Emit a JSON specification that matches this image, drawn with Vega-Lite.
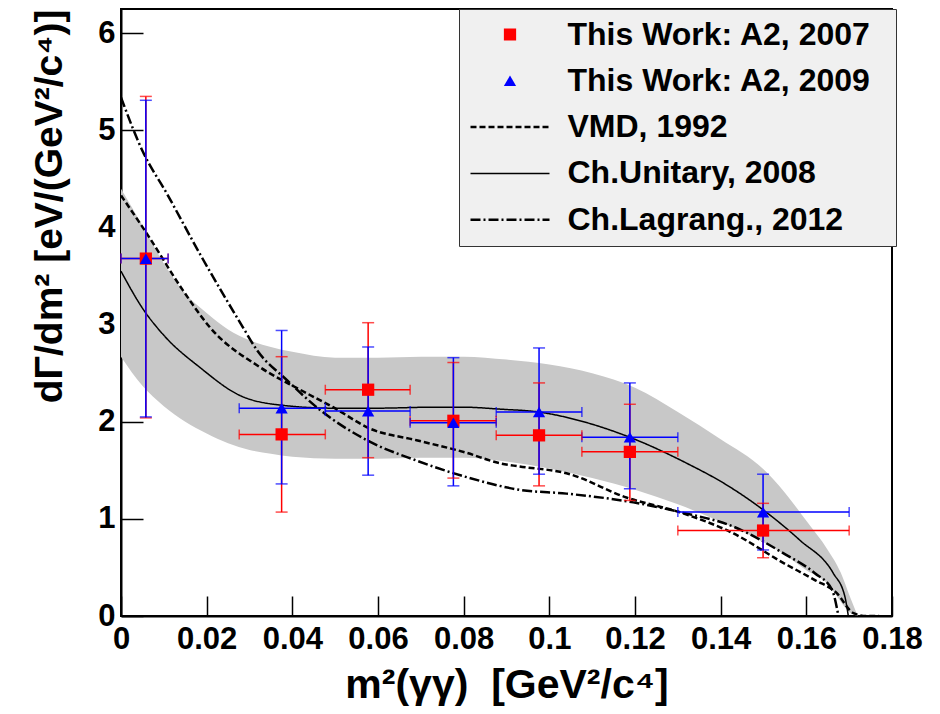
{
  "$schema": "https://vega.github.io/schema/vega-lite/v6.json",
  "width": 771,
  "height": 607,
  "autosize": {"type": "none"},
  "padding": {"left": 121, "top": 9, "right": 48, "bottom": 98},
  "background": "white",
  "config": {
    "font": "Liberation Sans",
    "view": {"stroke": "#000000", "strokeWidth": 2},
    "axis": {
      "grid": false,
      "domainColor": "#000000",
      "domainWidth": 2,
      "tickColor": "#000000",
      "tickWidth": 1.5,
      "labelColor": "#000000",
      "labelFont": "Liberation Sans",
      "labelFontWeight": "bold",
      "labelFontSize": 31,
      "labelFlush": false,
      "labelOverlap": false,
      "titleFont": "Liberation Sans",
      "titleFontWeight": "bold",
      "titleColor": "#000000"
    },
    "legend": {
      "fillColor": "#f0f0f0",
      "strokeColor": "#333333",
      "padding": 10,
      "clipHeight": 31,
      "labelFont": "Liberation Sans",
      "labelFontSize": 32,
      "labelFontWeight": "bold",
      "labelColor": "#000000",
      "labelLimit": 600,
      "labelOffset": 16.5,
      "rowPadding": 13.3,
      "symbolOpacity": 1,
      "titleOrient": "right",
      "titleFontSize": 1,
      "titlePadding": 15
    }
  },
  "datasets": {
    "points": [
      {"series": "This Work: A2, 2007", "x": 0.0058, "y": 3.68, "xlo": 0.0, "xhi": 0.011, "ylo": 2.04, "yhi": 5.35},
      {"series": "This Work: A2, 2007", "x": 0.0375, "y": 1.87, "xlo": 0.0276, "xhi": 0.0477, "ylo": 1.07, "yhi": 2.67},
      {"series": "This Work: A2, 2007", "x": 0.0577, "y": 2.33, "xlo": 0.0477, "xhi": 0.0675, "ylo": 1.63, "yhi": 3.02},
      {"series": "This Work: A2, 2007", "x": 0.0776, "y": 2.01, "xlo": 0.0675, "xhi": 0.0876, "ylo": 1.42, "yhi": 2.61},
      {"series": "This Work: A2, 2007", "x": 0.0976, "y": 1.86, "xlo": 0.0876, "xhi": 0.1076, "ylo": 1.34, "yhi": 2.40},
      {"series": "This Work: A2, 2007", "x": 0.1188, "y": 1.69, "xlo": 0.1076, "xhi": 0.130, "ylo": 1.19, "yhi": 2.18},
      {"series": "This Work: A2, 2007", "x": 0.1499, "y": 0.88, "xlo": 0.130, "xhi": 0.170, "ylo": 0.60, "yhi": 1.16},
      {"series": "This Work: A2, 2009", "x": 0.0058, "y": 3.68, "xlo": 0.0, "xhi": 0.011, "ylo": 2.05, "yhi": 5.31},
      {"series": "This Work: A2, 2009", "x": 0.0375, "y": 2.14, "xlo": 0.0276, "xhi": 0.0477, "ylo": 1.36, "yhi": 2.94},
      {"series": "This Work: A2, 2009", "x": 0.0577, "y": 2.11, "xlo": 0.0477, "xhi": 0.0675, "ylo": 1.45, "yhi": 2.77},
      {"series": "This Work: A2, 2009", "x": 0.0776, "y": 1.99, "xlo": 0.0675, "xhi": 0.0876, "ylo": 1.34, "yhi": 2.66},
      {"series": "This Work: A2, 2009", "x": 0.0976, "y": 2.10, "xlo": 0.0876, "xhi": 0.1076, "ylo": 1.46, "yhi": 2.76},
      {"series": "This Work: A2, 2009", "x": 0.1188, "y": 1.84, "xlo": 0.1076, "xhi": 0.130, "ylo": 1.31, "yhi": 2.40},
      {"series": "This Work: A2, 2009", "x": 0.1499, "y": 1.07, "xlo": 0.130, "xhi": 0.170, "ylo": 0.68, "yhi": 1.46}
    ],
    "band": [
      {"x": 0.0, "lo": 2.67, "hi": 4.40},
      {"x": 0.005, "lo": 2.37, "hi": 4.02},
      {"x": 0.01, "lo": 2.16, "hi": 3.63},
      {"x": 0.015, "lo": 2.0, "hi": 3.32},
      {"x": 0.02, "lo": 1.88, "hi": 3.12},
      {"x": 0.025, "lo": 1.78, "hi": 2.95},
      {"x": 0.03, "lo": 1.71, "hi": 2.84},
      {"x": 0.035, "lo": 1.67, "hi": 2.77},
      {"x": 0.04, "lo": 1.64, "hi": 2.72},
      {"x": 0.05, "lo": 1.62, "hi": 2.66},
      {"x": 0.06, "lo": 1.62, "hi": 2.66},
      {"x": 0.07, "lo": 1.63, "hi": 2.67},
      {"x": 0.08, "lo": 1.63, "hi": 2.67},
      {"x": 0.09, "lo": 1.59, "hi": 2.64},
      {"x": 0.1, "lo": 1.52, "hi": 2.59},
      {"x": 0.11, "lo": 1.42, "hi": 2.50},
      {"x": 0.12, "lo": 1.30, "hi": 2.35},
      {"x": 0.13, "lo": 1.15, "hi": 2.10},
      {"x": 0.14, "lo": 0.97, "hi": 1.82},
      {"x": 0.15, "lo": 0.76, "hi": 1.51},
      {"x": 0.155, "lo": 0.63, "hi": 1.27},
      {"x": 0.16, "lo": 0.47, "hi": 0.98},
      {"x": 0.165, "lo": 0.33, "hi": 0.68},
      {"x": 0.168, "lo": 0.15, "hi": 0.45},
      {"x": 0.17, "lo": 0.04, "hi": 0.22},
      {"x": 0.172, "lo": 0.0, "hi": 0.0}
    ],
    "curves": [
      {"series": "Ch.Unitary, 2008", "x": 0.0, "y": 3.55},
      {"series": "Ch.Unitary, 2008", "x": 0.005, "y": 3.17},
      {"series": "Ch.Unitary, 2008", "x": 0.01, "y": 2.89},
      {"series": "Ch.Unitary, 2008", "x": 0.0184, "y": 2.56},
      {"series": "Ch.Unitary, 2008", "x": 0.0278, "y": 2.27},
      {"series": "Ch.Unitary, 2008", "x": 0.0376, "y": 2.17},
      {"series": "Ch.Unitary, 2008", "x": 0.0495, "y": 2.14},
      {"series": "Ch.Unitary, 2008", "x": 0.06, "y": 2.14},
      {"series": "Ch.Unitary, 2008", "x": 0.0728, "y": 2.15},
      {"series": "Ch.Unitary, 2008", "x": 0.08, "y": 2.15},
      {"series": "Ch.Unitary, 2008", "x": 0.0885, "y": 2.13},
      {"series": "Ch.Unitary, 2008", "x": 0.0976, "y": 2.10},
      {"series": "Ch.Unitary, 2008", "x": 0.108, "y": 2.00},
      {"series": "Ch.Unitary, 2008", "x": 0.1188, "y": 1.84},
      {"series": "Ch.Unitary, 2008", "x": 0.1322, "y": 1.57},
      {"series": "Ch.Unitary, 2008", "x": 0.141, "y": 1.36},
      {"series": "Ch.Unitary, 2008", "x": 0.15, "y": 1.09},
      {"series": "Ch.Unitary, 2008", "x": 0.1585, "y": 0.78},
      {"series": "Ch.Unitary, 2008", "x": 0.1663, "y": 0.44},
      {"series": "Ch.Unitary, 2008", "x": 0.169, "y": 0.20},
      {"series": "Ch.Unitary, 2008", "x": 0.1698, "y": 0.0},
      {"series": "VMD, 1992", "x": 0.0, "y": 4.33},
      {"series": "VMD, 1992", "x": 0.006, "y": 3.94},
      {"series": "VMD, 1992", "x": 0.0145, "y": 3.35},
      {"series": "VMD, 1992", "x": 0.0208, "y": 2.97},
      {"series": "VMD, 1992", "x": 0.0325, "y": 2.56},
      {"series": "VMD, 1992", "x": 0.0418, "y": 2.33},
      {"series": "VMD, 1992", "x": 0.0495, "y": 2.15},
      {"series": "VMD, 1992", "x": 0.0581, "y": 1.93},
      {"series": "VMD, 1992", "x": 0.069, "y": 1.81},
      {"series": "VMD, 1992", "x": 0.0807, "y": 1.68},
      {"series": "VMD, 1992", "x": 0.0887, "y": 1.57},
      {"series": "VMD, 1992", "x": 0.093, "y": 1.54},
      {"series": "VMD, 1992", "x": 0.104, "y": 1.47},
      {"series": "VMD, 1992", "x": 0.118, "y": 1.22},
      {"series": "VMD, 1992", "x": 0.131, "y": 1.06},
      {"series": "VMD, 1992", "x": 0.143, "y": 0.85},
      {"series": "VMD, 1992", "x": 0.1545, "y": 0.55},
      {"series": "VMD, 1992", "x": 0.162, "y": 0.37},
      {"series": "VMD, 1992", "x": 0.167, "y": 0.24},
      {"series": "VMD, 1992", "x": 0.171, "y": 0.03},
      {"series": "VMD, 1992", "x": 0.174, "y": 0.0},
      {"series": "VMD, 1992", "x": 0.177, "y": 0.0},
      {"series": "Ch.Lagrang., 2012", "x": 0.0, "y": 5.34},
      {"series": "Ch.Lagrang., 2012", "x": 0.005, "y": 4.79},
      {"series": "Ch.Lagrang., 2012", "x": 0.0107, "y": 4.35},
      {"series": "Ch.Lagrang., 2012", "x": 0.0184, "y": 3.73},
      {"series": "Ch.Lagrang., 2012", "x": 0.0285, "y": 2.97},
      {"series": "Ch.Lagrang., 2012", "x": 0.0317, "y": 2.74},
      {"series": "Ch.Lagrang., 2012", "x": 0.0387, "y": 2.43},
      {"series": "Ch.Lagrang., 2012", "x": 0.0465, "y": 2.12},
      {"series": "Ch.Lagrang., 2012", "x": 0.0574, "y": 1.81},
      {"series": "Ch.Lagrang., 2012", "x": 0.069, "y": 1.60},
      {"series": "Ch.Lagrang., 2012", "x": 0.0807, "y": 1.43},
      {"series": "Ch.Lagrang., 2012", "x": 0.093, "y": 1.30},
      {"series": "Ch.Lagrang., 2012", "x": 0.104, "y": 1.26},
      {"series": "Ch.Lagrang., 2012", "x": 0.1196, "y": 1.17},
      {"series": "Ch.Lagrang., 2012", "x": 0.1305, "y": 1.07},
      {"series": "Ch.Lagrang., 2012", "x": 0.143, "y": 0.92},
      {"series": "Ch.Lagrang., 2012", "x": 0.1545, "y": 0.65},
      {"series": "Ch.Lagrang., 2012", "x": 0.162, "y": 0.44},
      {"series": "Ch.Lagrang., 2012", "x": 0.166, "y": 0.27},
      {"series": "Ch.Lagrang., 2012", "x": 0.1675, "y": 0.0}
    ]
  },
  "layer": [
    {
      "data": {"name": "band"},
      "mark": {"type": "area", "color": "#c8c8c8", "opacity": 1, "interpolate": "monotone"},
      "encoding": {
        "x": {
          "field": "x", "type": "quantitative",
          "scale": {"domain": [0, 0.18], "nice": false, "zero": false},
          "axis": {
            "title": "m²(γγ) \u00a0[GeV²/c⁴]",
            "values": [0, 0.02, 0.04, 0.06, 0.08, 0.1, 0.12, 0.14, 0.16, 0.18],
            "format": "~g",
            "tickSize": -20,
            "labelPadding": 28,
            "titleFontSize": 41,
            "titlePadding": 11
          }
        },
        "y": {
          "field": "lo", "type": "quantitative",
          "scale": {"domain": [0, 6.25], "nice": false, "zero": false},
          "axis": {
            "title": "dΓ/dm² [eV/(GeV²/c⁴)]",
            "values": [0, 1, 2, 3, 4, 5, 6],
            "format": "d",
            "tickSize": -22,
            "labelPadding": 28,
            "titleFontSize": 39,
            "titleAnchor": "end",
            "titlePadding": 28
          }
        },
        "y2": {"field": "hi"}
      }
    },
    {
      "data": {"name": "curves"},
      "mark": {"type": "line", "clip": true, "interpolate": "monotone"},
      "encoding": {
        "x": {"field": "x", "type": "quantitative"},
        "y": {"field": "y", "type": "quantitative"},
        "color": {
          "field": "series", "type": "nominal",
          "scale": {"domain": ["This Work: A2, 2007", "This Work: A2, 2009", "VMD, 1992", "Ch.Unitary, 2008", "Ch.Lagrang., 2012"], "range": ["#ff0000", "#0000ff", "#000000", "#000000", "#000000"]}
        },
        "strokeDash": {
          "field": "series", "type": "nominal",
          "scale": {"domain": ["This Work: A2, 2007", "This Work: A2, 2009", "VMD, 1992", "Ch.Unitary, 2008", "Ch.Lagrang., 2012"], "range": [[1, 0], [1, 0], [6, 3], [1, 0], [10, 3, 2, 3]]}
        },
        "strokeWidth": {
          "field": "series", "type": "nominal",
          "scale": {"type": "ordinal", "domain": ["This Work: A2, 2007", "This Work: A2, 2009", "VMD, 1992", "Ch.Unitary, 2008", "Ch.Lagrang., 2012"], "range": [0, 0, 2.5, 1.5, 2.5]}
        }
      }
    },
    {
      "data": {"name": "points"},
      "mark": {"type": "rule", "strokeWidth": 1.5},
      "encoding": {
        "x": {"field": "x", "type": "quantitative"},
        "y": {"field": "ylo", "type": "quantitative"},
        "y2": {"field": "yhi"},
        "color": {"field": "series", "type": "nominal"}
      }
    },
    {
      "data": {"name": "points"},
      "mark": {"type": "rule", "strokeWidth": 1.5},
      "encoding": {
        "y": {"field": "y", "type": "quantitative"},
        "x": {"field": "xlo", "type": "quantitative"},
        "x2": {"field": "xhi"},
        "color": {"field": "series", "type": "nominal"}
      }
    },
    {
      "data": {"name": "points"},
      "mark": {"type": "tick", "orient": "horizontal", "size": 12, "thickness": 1.5},
      "encoding": {
        "x": {"field": "x", "type": "quantitative"},
        "y": {"field": "yhi", "type": "quantitative"},
        "color": {"field": "series", "type": "nominal"}
      }
    },
    {
      "data": {"name": "points"},
      "mark": {"type": "tick", "orient": "horizontal", "size": 12, "thickness": 1.5},
      "encoding": {
        "x": {"field": "x", "type": "quantitative"},
        "y": {"field": "ylo", "type": "quantitative"},
        "color": {"field": "series", "type": "nominal"}
      }
    },
    {
      "data": {"name": "points"},
      "mark": {"type": "tick", "orient": "vertical", "size": 10, "thickness": 1.5},
      "encoding": {
        "x": {"field": "xlo", "type": "quantitative"},
        "y": {"field": "y", "type": "quantitative"},
        "color": {"field": "series", "type": "nominal"}
      }
    },
    {
      "data": {"name": "points"},
      "mark": {"type": "tick", "orient": "vertical", "size": 10, "thickness": 1.5},
      "encoding": {
        "x": {"field": "xhi", "type": "quantitative"},
        "y": {"field": "y", "type": "quantitative"},
        "color": {"field": "series", "type": "nominal"}
      }
    },
    {
      "data": {"name": "points"},
      "mark": {"type": "point", "filled": true, "opacity": 1},
      "encoding": {
        "x": {"field": "x", "type": "quantitative"},
        "y": {"field": "y", "type": "quantitative"},
        "color": {
          "field": "series", "type": "nominal",
          "legend": {"title": "\u00a0", "orient": "none", "legendX": 338, "legendY": 0}
        },
        "shape": {
          "field": "series", "type": "nominal",
          "scale": {"domain": ["This Work: A2, 2007", "This Work: A2, 2009", "VMD, 1992", "Ch.Unitary, 2008", "Ch.Lagrang., 2012"], "range": ["square", "triangle-up", "stroke", "stroke", "stroke"]}
        },
        "size": {
          "field": "series", "type": "nominal",
          "scale": {"type": "ordinal", "domain": ["This Work: A2, 2007", "This Work: A2, 2009", "VMD, 1992", "Ch.Unitary, 2008", "Ch.Lagrang., 2012"], "range": [150, 150, 6241, 6241, 6241]}
        }
      }
    }
  ]
}
